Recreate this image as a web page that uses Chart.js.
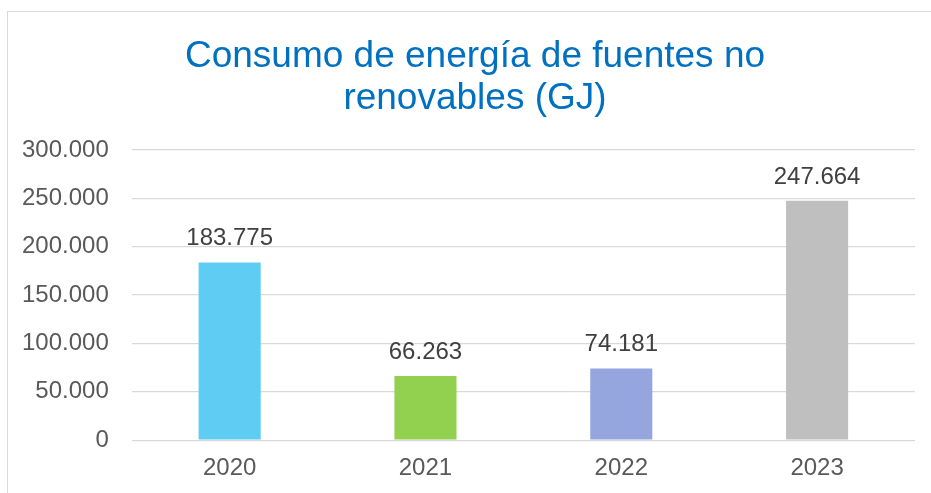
<!DOCTYPE html>
<html>
<head>
<meta charset="utf-8">
<script src="https://cdn.jsdelivr.net/npm/chart.js@4"></script>
<style>
  html, body { margin: 0; padding: 0; background: #fff; }
  #wrap { position: relative; width: 931px; height: 493px; overflow: hidden; }
  #frame {
    position: absolute; left: 7px; top: 11px; width: 1000px; height: 600px;
    border-left: 1px solid #d9d9d9; border-top: 1px solid #d9d9d9;
    pointer-events: none;
  }
  canvas { position: absolute; left: 0; top: 0; }
</style>
</head>
<body>
<div id="wrap">
  <canvas id="chart" width="931" height="493"></canvas>
  <div id="frame"></div>
</div>
<script>
const years = ["2020", "2021", "2022", "2023"];
const consumo = [183775, 66263, 74181, 247664];
const barColors = ["#5ECCF3", "#92D050", "#95A5DE", "#BFBFBF"];
const yTicks = [0, 50000, 100000, 150000, 200000, 250000, 300000];
const titleLines = ["Consumo de energía de fuentes no", "renovables (GJ)"];

const font = '"Liberation Sans", Arial, sans-serif';

function formatNum(v) {
  return String(Math.round(v)).replace(/\B(?=(\d{3})+(?!\d))/g, ".");
}

// two line title, centred on the frame rather than on the canvas
const frameTitle = {
  id: "frameTitle",
  afterDraw(chart) {
    const ctx = chart.ctx;
    ctx.save();
    ctx.font = "37px " + font;
    ctx.fillStyle = "#0070C0";
    ctx.textAlign = "center";
    ctx.textBaseline = "alphabetic";
    titleLines.forEach((line, i) => {
      ctx.fillText(line, 475, 67 + i * 42);
    });
    ctx.restore();
  },
};

// value labels above each bar
const barLabels = {
  id: "barLabels",
  afterDatasetsDraw(chart) {
    const ctx = chart.ctx;
    const meta = chart.getDatasetMeta(0);
    ctx.save();
    ctx.font = "24px " + font;
    ctx.fillStyle = "#404040";
    ctx.textAlign = "center";
    ctx.textBaseline = "alphabetic";
    meta.data.forEach((bar, i) => {
      ctx.fillText(formatNum(consumo[i]), bar.x, bar.y - 17);
    });
    ctx.restore();
  },
};

new Chart(document.getElementById("chart"), {
  type: "bar",
  data: {
    labels: years,
    datasets: [
      {
        data: consumo,
        backgroundColor: barColors,
        barPercentage: 0.317,
        categoryPercentage: 1,
      },
    ],
  },
  options: {
    responsive: false,
    animation: false,
    layout: {
      padding: { left: -1, right: 16, top: 150, bottom: 4 },
    },
    plugins: {
      legend: { display: false },
      tooltip: { enabled: false },
      title: { display: false },
    },
    scales: {
      x: {
        grid: { display: false },
        border: { display: false },
        ticks: {
          color: "#595959",
          font: { family: font, size: 24 },
          padding: 6,
        },
      },
      y: {
        min: 0,
        max: 300000,
        afterBuildTicks(scale) {
          scale.ticks = yTicks.map((v) => ({ value: v }));
        },
        grid: { color: "#d9d9d9", lineWidth: 1.3, drawTicks: false },
        border: { display: false },
        ticks: {
          color: "#595959",
          font: { family: font, size: 24 },
          padding: 23,
          callback: (v) => formatNum(v),
        },
      },
    },
  },
  plugins: [barLabels, frameTitle],
});
</script>
</body>
</html>
